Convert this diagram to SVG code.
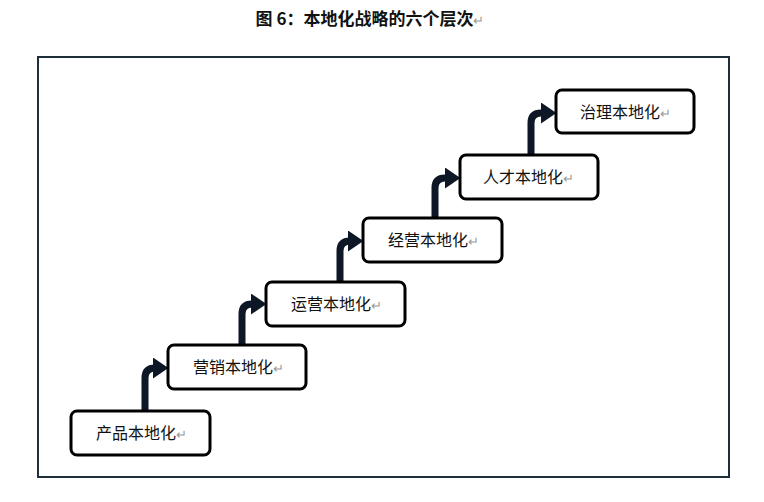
<svg xmlns="http://www.w3.org/2000/svg" width="764" height="502" viewBox="0 0 764 502">
<defs>
<style>
.box{fill:#fff;stroke:#000;stroke-width:3}
.t{font-family:"Noto Sans CJK SC","Liberation Sans",sans-serif;font-size:16px;fill:#111}
.r{fill:#999;font-size:13px}
.arr{fill:none;stroke:#0d1726;stroke-width:7}
</style>
<marker id="ah" markerWidth="3" markerHeight="3" refX="1" refY="1.5" orient="auto" markerUnits="strokeWidth">
<path d="M0,0 L2.2,1.5 L0,3 Z" fill="#0d1726"/>
</marker>
</defs>
<rect width="764" height="502" fill="#fff"/>
<text x="370" y="25" text-anchor="middle" font-family="Noto Sans CJK SC,sans-serif" font-size="17" font-weight="bold" fill="#111">图 6：本地化战略的六个层次<tspan fill="#999" font-weight="normal" font-size="13">↵</tspan></text>
<rect x="38" y="57" width="691" height="420" fill="none" stroke="#1f2f3a" stroke-width="2"/>
<g id="connectors">
<path class="arr" d="M145,411 V378 Q145,368 155,368 H160" marker-end="url(#ah)"/>
<path class="arr" d="M242,345 V314 Q242,304 252,304 H258" marker-end="url(#ah)"/>
<path class="arr" d="M340,282 V251 Q340,241 350,241 H355" marker-end="url(#ah)"/>
<path class="arr" d="M435,218 V188 Q435,178 445,178 H452" marker-end="url(#ah)"/>
<path class="arr" d="M531,155 V123 Q531,113 541,113 H548" marker-end="url(#ah)"/>
</g>
<g id="n1"><rect class="box" x="71" y="411" width="139" height="44" rx="6"/><text class="t" x="96" y="439">产品本地化<tspan class="r">↵</tspan></text></g>
<g id="n2"><rect class="box" x="168" y="345" width="138" height="44" rx="6"/><text class="t" x="193" y="373">营销本地化<tspan class="r">↵</tspan></text></g>
<g id="n3"><rect class="box" x="266" y="282" width="139" height="44" rx="6"/><text class="t" x="291" y="310">运营本地化<tspan class="r">↵</tspan></text></g>
<g id="n4"><rect class="box" x="363" y="218" width="139" height="44" rx="6"/><text class="t" x="388" y="246">经营本地化<tspan class="r">↵</tspan></text></g>
<g id="n5"><rect class="box" x="460" y="155" width="138" height="44" rx="6"/><text class="t" x="483" y="183">人才本地化<tspan class="r">↵</tspan></text></g>
<g id="n6"><rect class="box" x="556" y="90" width="138" height="43" rx="6"/><text class="t" x="580" y="118">治理本地化<tspan class="r">↵</tspan></text></g>
</svg>
